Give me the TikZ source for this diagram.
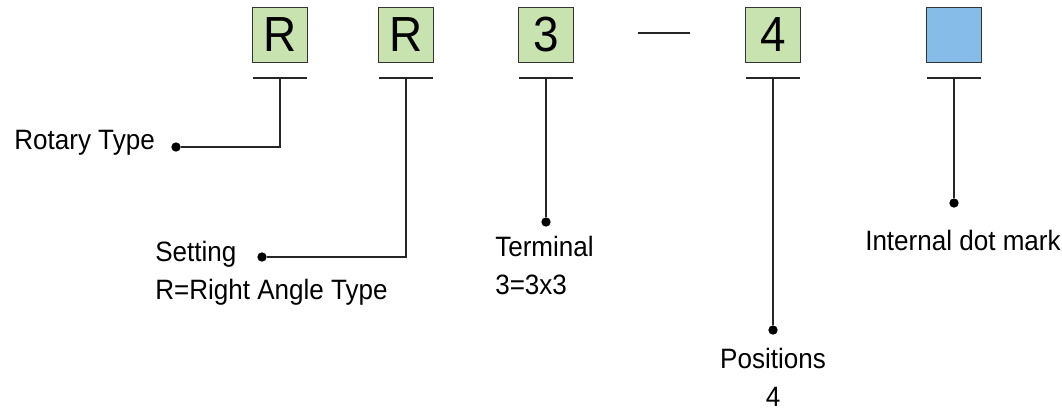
\documentclass[tikz,border=0pt]{standalone}
\usepackage{fontspec}
\setmainfont[FakeStretch=0.93]{Liberation Sans}
\definecolor{codegreen}{HTML}{C8E3B0}
\definecolor{codeblue}{HTML}{85BDE8}
\tikzset{
  codebox/.style={draw=black!80,line width=1pt,minimum size=41pt,inner sep=0pt,font=\fontsize{37}{37}\selectfont},
  lead/.style={line width=1pt,black!85},
  tip/.style={fill=black,circle,inner sep=0pt,minimum size=7pt},
  caption/.style={font=\fontsize{21}{28.5}\selectfont,align=left,inner sep=0pt}
}
\begin{document}
\begin{tikzpicture}[x=0.75pt,y=-0.75pt]
\useasboundingbox (0,0) rectangle (1062,412);
% code boxes
\foreach \x/\c/\t/\n in {280/codegreen/R/b1,406/codegreen/R/b2,546/codegreen/3/b3,773/codegreen/4/b4,954/codeblue/{}/b5} {
  \node[codebox,fill=\c] (\n) at (\x,35) {\t};
  \draw[lead] (\x-27,78) -- (\x+27,78);
  \coordinate (t\n) at (\x,78);
}
\draw[lead] (638,33) -- (690,33);

% dots
\node[tip] (d1) at (176,147) {};
\node[tip] (d2) at (262,257) {};
\node[tip] (d3) at (546,222) {};
\node[tip] (d4) at (773,330) {};
\node[tip] (d5) at (954,203) {};

\draw[lead] (tb1) |- (d1);
\draw[lead] (tb2) |- (d2);
\draw[lead] (tb3) -- (d3);
\draw[lead] (tb4) -- (d4);
\draw[lead] (tb5) -- (d5);

% captions
\node[caption,anchor=east] (l1) at (155,143) {Rotary Type};
\node[caption,anchor=north west] (l2) at (155,241) {Setting\\R=Right Angle Type};
\node[caption,anchor=north west] (l3) at (495,236) {Terminal\\3=3x3};
\node[caption,anchor=north west] (l4) at (865,230) {Internal dot mark};
\node[caption,anchor=north,align=center] (l5) at (773,348) {Positions\\4};
\end{tikzpicture}
\end{document}
